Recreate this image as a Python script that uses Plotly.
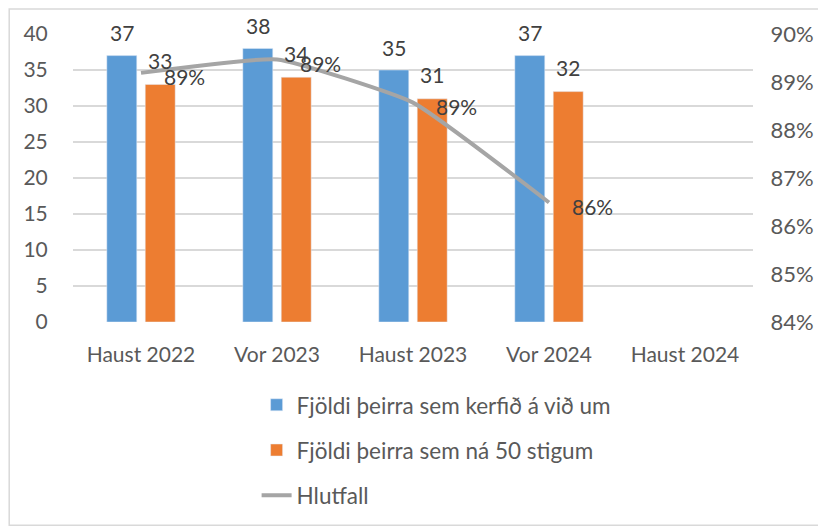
import plotly.graph_objects as go

categories = ["Haust 2022", "Vor 2023", "Haust 2023", "Vor 2024", "Haust 2024"]
data_categories = ["Haust 2022", "Vor 2023", "Haust 2023", "Vor 2024"]
fjoldi_kerfi = [37, 38, 35, 37]
fjoldi_50 = [33, 34, 31, 32]
hlutfall = [0.8919, 0.8947, 0.8857, 0.8649]
left_ticks = [0, 5, 10, 15, 20, 25, 30, 35, 40]
right_ticks = [0.84, 0.85, 0.86, 0.87, 0.88, 0.89, 0.90]

FONT = "Lato"
TXT = "#595959"
LBL = "#404040"

W, H = 818, 521
ML, MR, MT, MB = 65, 71, 26, 206
BARGAP = 0.435
plot_w = W - ML - MR
cat_w = plot_w / len(categories)
bar_off = (1 - BARGAP) * cat_w / 4

fig = go.Figure()
fig.add_trace(go.Bar(
    x=data_categories, y=fjoldi_kerfi, name="Fjöldi þeirra sem kerfið á við um",
    marker=dict(color="#5b9bd5"), legendgroup="a",
))
fig.add_trace(go.Bar(
    x=data_categories, y=fjoldi_50, name="Fjöldi þeirra sem ná 50 stigum",
    marker=dict(color="#ed7d31"), legendgroup="b",
))
fig.add_trace(go.Scatter(
    x=data_categories, y=hlutfall, name="Hlutfall", yaxis="y2",
    mode="lines", line=dict(color="#a5a5a5", width=4, shape="spline", smoothing=0.4),
    legendgroup="c",
))

annotations = []
for c, v in zip(data_categories, fjoldi_kerfi):
    annotations.append(dict(x=c, y=v, xref="x", yref="y", text=str(v), showarrow=False,
                            xshift=-bar_off, yshift=23, yanchor="middle",
                            font=dict(size=21, color=LBL, family=FONT)))
for c, v in zip(data_categories, fjoldi_50):
    annotations.append(dict(x=c, y=v, xref="x", yref="y", text=str(v), showarrow=False,
                            xshift=bar_off, yshift=24, yanchor="middle",
                            font=dict(size=21, color=LBL, family=FONT)))
for c, v in zip(data_categories, hlutfall):
    annotations.append(dict(x=c, y=v, xref="x", yref="y2", text=f"{v:.0%}", showarrow=False,
                            xshift=21, yshift=-4, xanchor="left", yanchor="middle",
                            font=dict(size=21, color=LBL, family=FONT)))

fig.update_layout(
    width=W, height=H,
    margin=dict(l=ML, r=MR, t=MT, b=MB),
    paper_bgcolor="white", plot_bgcolor="white",
    font=dict(family=FONT, size=21, color=TXT),
    barmode="group", bargap=BARGAP, bargroupgap=0.22,
    showlegend=True,
    legend=dict(x=0.27, y=-0.214, xanchor="left", yanchor="top",
                orientation="v", tracegroupgap=13,
                font=dict(size=22.5, color=TXT, family=FONT)),
    xaxis=dict(type="category", categoryorder="array", categoryarray=categories,
               range=[-0.5, 4.5], showgrid=False, showline=False, zeroline=False,
               ticks="outside", ticklen=14, tickcolor="rgba(0,0,0,0)",
               tickfont=dict(size=21, color=TXT)),
    yaxis=dict(range=[0, 40], tickvals=left_ticks, showgrid=True, gridcolor="#d9d9d9",
               gridwidth=1.5, zeroline=False, showline=False,
               ticks="outside", ticklen=20, tickcolor="rgba(0,0,0,0)",
               tickfont=dict(size=21, color=TXT)),
    yaxis2=dict(range=[0.84, 0.90], tickvals=right_ticks, tickformat=".0%",
                overlaying="y", side="right", showgrid=False, zeroline=False,
                showline=False, ticks="outside", ticklen=12, tickcolor="rgba(0,0,0,0)",
                tickfont=dict(size=22, color=TXT)),
    annotations=annotations,
    shapes=[dict(type="rect", xref="paper", yref="paper",
                 x0=-0.0938, x1=1.101, y0=-0.706, y1=1.087,
                 line=dict(color="#d9d9d9", width=1.5), fillcolor="rgba(0,0,0,0)", layer="below")],
)

fig.write_html("out.html")
